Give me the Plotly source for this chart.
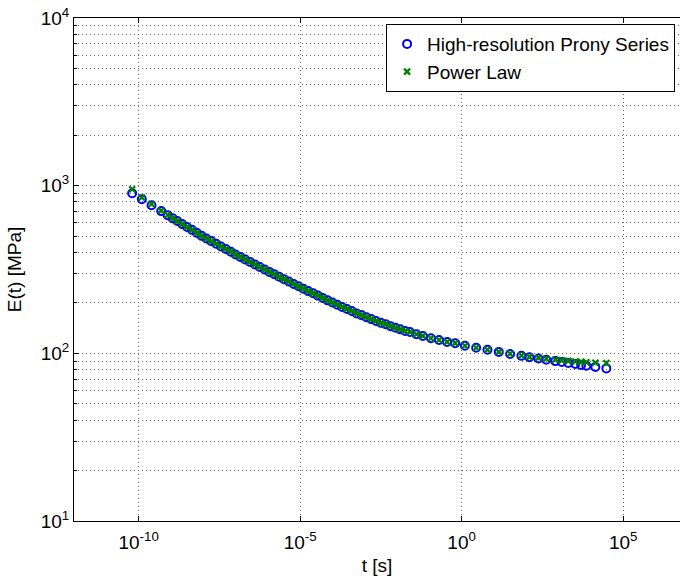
import plotly.graph_objects as go

# log10 of time [s]
log_t = [
    -10.2, -9.9, -9.6, -9.3,
    -9.1, -8.95, -8.8, -8.65, -8.5, -8.35, -8.2, -8.05, -7.9, -7.75,
    -7.6, -7.45, -7.3, -7.15, -7.0, -6.85, -6.7, -6.55, -6.4, -6.25,
    -6.1, -5.95, -5.8, -5.65, -5.5, -5.35, -5.2, -5.05, -4.9, -4.75,
    -4.6, -4.45, -4.3, -4.15, -4.0, -3.85, -3.7, -3.55, -3.4, -3.25,
    -3.1, -2.95, -2.8, -2.65, -2.5, -2.35, -2.2, -2.05, -1.9, -1.75, -1.6,
    -1.4, -1.2, -0.95, -0.7, -0.45, -0.2, 0.1, 0.45, 0.8, 1.15, 1.5, 1.85,
    2.1, 2.38, 2.62, 2.9, 3.1, 3.3, 3.52, 3.7, 3.86, 4.14, 4.48]
t = [10**v for v in log_t]

# High-resolution Prony series E(t) [MPa]
E_prony = [
    902, 830, 765, 705,
    667, 640, 615, 590, 567, 545, 523, 502, 484, 467,
    450, 434, 419, 404, 389, 376, 363, 351, 339, 327,
    316, 306, 296, 286, 277, 268, 259, 251, 243, 235,
    228, 221, 214, 207, 201, 195, 189, 184, 179, 173,
    169, 164, 160, 156, 152, 149, 145, 142, 139, 136, 134,
    130, 127, 123, 120, 117, 115, 111, 108, 105, 102, 99.2, 96.6,
    94.8, 93.1, 91.6, 89.9, 88.7, 87.5, 86.3, 85.3, 84.3, 83.0, 81.3]

# Power law E(t) [MPa]
E_power = [
    952, 850, 778, 710,
    668, 640, 615, 590, 567, 545, 523, 502, 484, 467,
    450, 434, 419, 404, 389, 376, 363, 351, 339, 327,
    316, 306, 296, 286, 277, 268, 259, 251, 243, 235,
    228, 221, 214, 207, 201, 195, 189, 184, 179, 173,
    169, 164, 160, 156, 152, 149, 145, 142, 139, 136, 134,
    130, 127, 123, 120, 117, 115, 111, 108, 105, 102, 99.4, 97.0,
    95.3, 94.0, 92.8, 91.6, 90.8, 90.1, 89.4, 88.9, 88.5, 87.9, 87.5]

x_tickvals = [1e-10, 1e-5, 1e0, 1e5]
x_ticktext = ["10<sup>-10</sup>", "10<sup>-5</sup>", "10<sup>0</sup>", "10<sup>5</sup>"]
y_tickvals = [1e1, 1e2, 1e3, 1e4]
y_ticktext = ["10<sup>1</sup>", "10<sup>2</sup>", "10<sup>3</sup>", "10<sup>4</sup>"]
y_minor = [m * 10**d for d in (1, 2, 3) for m in range(2, 10)]

FONT = "Liberation Sans, Arial, sans-serif"
GRID = "#666"
DASH = "1px,3px"

fig = go.Figure()
fig.add_trace(go.Scatter(
    x=t, y=E_prony, mode="markers", name="High-resolution Prony Series",
    marker=dict(symbol="circle-open", size=8, color="#0000ff",
                line=dict(width=2, color="#0000ff"))))
fig.add_trace(go.Scatter(
    x=t, y=E_power, mode="markers", name="Power Law",
    marker=dict(symbol="x-thin-open", size=6, color="#008000",
                line=dict(width=2.3, color="#008000"))))

fig.update_layout(
    width=680, height=583,
    margin=dict(l=74, r=0, t=18, b=62),
    paper_bgcolor="white", plot_bgcolor="white",
    font=dict(family=FONT, size=19, color="black"),
    showlegend=True,
    legend=dict(x=0.515, y=0.988, xanchor="left", yanchor="top",
                bgcolor="white", bordercolor="black", borderwidth=1,
                font=dict(size=19), tracegroupgap=0, itemwidth=30),
)
fig.update_xaxes(
    type="log", range=[-12, 6.76],
    tickmode="array", tickvals=x_tickvals, ticktext=x_ticktext,
    ticks="inside", ticklen=5, tickcolor="black",
    showline=True, linecolor="black", linewidth=1, mirror="ticks",
    showgrid=True, gridcolor=GRID, griddash=DASH, gridwidth=1,
    zeroline=False, ticklabelstandoff=4,
    title=dict(text="t [s]", font=dict(size=19), standoff=6),
    tickfont=dict(size=19),
)
fig.update_yaxes(
    type="log", range=[1, 4],
    tickmode="array", tickvals=y_tickvals, ticktext=y_ticktext,
    ticks="inside", ticklen=5, tickcolor="black",
    showline=True, linecolor="black", linewidth=1, mirror=False,
    showgrid=True, gridcolor=GRID, griddash=DASH, gridwidth=1,
    minor=dict(tickmode="array", tickvals=y_minor, ticks="inside", ticklen=3,
               tickcolor="black", showgrid=True, gridcolor=GRID,
               griddash=DASH, gridwidth=1),
    zeroline=False,
    title=dict(text="E(t) [MPa]", font=dict(size=19), standoff=14),
    tickfont=dict(size=19),
)

fig.write_html("out.html")
